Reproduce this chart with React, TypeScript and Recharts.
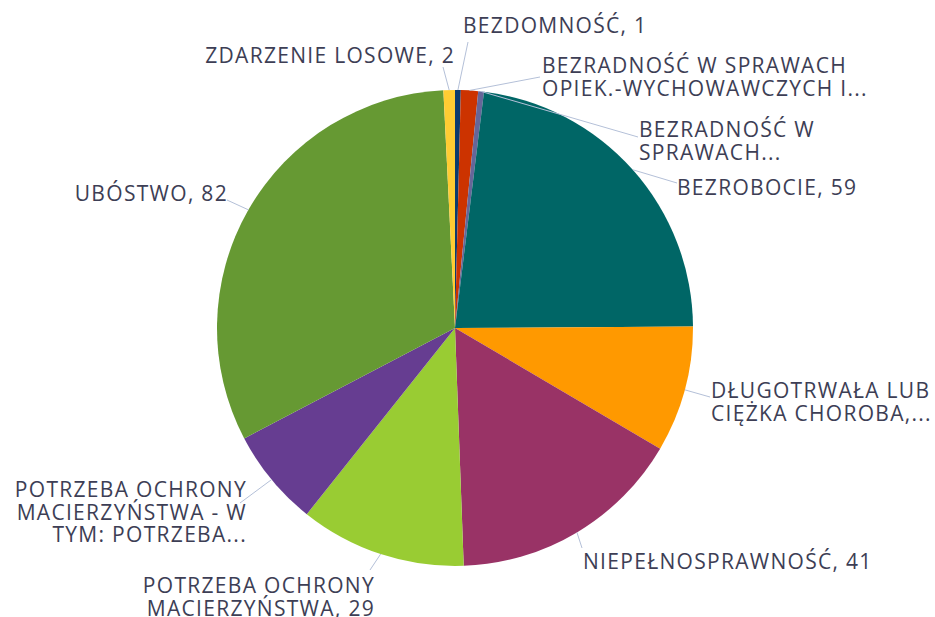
import React from "react";
import { Cell, Pie, PieChart } from "recharts";

// kategorie, wartości i kolory wycinków (kolejność zgodna z ruchem wskazówek zegara od godz. 12)
const categories = [
  "BEZDOMNOŚĆ",
  "BEZRADNOŚĆ W SPRAWACH OPIEK.-WYCHOWAWCZYCH I...",
  "BEZRADNOŚĆ W SPRAWACH...",
  "BEZROBOCIE",
  "DŁUGOTRWAŁA LUB CIĘŻKA CHOROBA,...",
  "NIEPEŁNOSPRAWNOŚĆ",
  "POTRZEBA OCHRONY MACIERZYŃSTWA",
  "POTRZEBA OCHRONY MACIERZYŃSTWA - W TYM: POTRZEBA...",
  "UBÓSTWO",
  "ZDARZENIE LOSOWE",
];
const values = [1, 3, 1, 59, 22, 41, 29, 17, 82, 2];
const colors = [
  "#0b3a6e",
  "#cc3300",
  "#666699",
  "#006666",
  "#ff9900",
  "#993366",
  "#99cc33",
  "#663d91",
  "#669933",
  "#ffcc33",
];
// tekst etykiet w liniach (jak w oryginale, z obcięciem)
const labelLines = [
  ["BEZDOMNOŚĆ, 1"],
  ["BEZRADNOŚĆ W SPRAWACH", "OPIEK.-WYCHOWAWCZYCH I..."],
  ["BEZRADNOŚĆ W", "SPRAWACH..."],
  ["BEZROBOCIE, 59"],
  ["DŁUGOTRWAŁA LUB", "CIĘŻKA CHOROBA,..."],
  ["NIEPEŁNOSPRAWNOŚĆ, 41"],
  ["POTRZEBA OCHRONY", "MACIERZYŃSTWA, 29"],
  ["POTRZEBA OCHRONY", "MACIERZYŃSTWA - W", "TYM: POTRZEBA..."],
  ["UBÓSTWO, 82"],
  ["ZDARZENIE LOSOWE, 2"],
];

const data = categories.map((name, i) => ({ name, value: values[i] }));

const W = 935;
const H = 617;
const TEXT = "#3d3e55";
const LEADER = "#b4c0d8";
const FONT = "'Open Sans', sans-serif";
const FS = 21;
const LS = 1.3;
const LH = 22.5;

// rozmieszczenie etykiet (wyrównanie, punkt tekstu, koniec linii odniesienia)
const layout: { anchor: "start" | "end"; x: number; y: number; ex: number; ey: number }[] = [
  { anchor: "start", x: 463, y: 33, ex: 468, ey: 42 },
  { anchor: "start", x: 542, y: 73, ex: 540, ey: 77 },
  { anchor: "start", x: 639, y: 137, ex: 638, ey: 137 },
  { anchor: "start", x: 677, y: 195, ex: 677, ey: 183 },
  { anchor: "start", x: 711, y: 398, ex: 710, ey: 397 },
  { anchor: "start", x: 583, y: 569, ex: 582, ey: 548 },
  { anchor: "end", x: 375, y: 593, ex: 370, ey: 570 },
  { anchor: "end", x: 247, y: 497, ex: 240, ey: 503 },
  { anchor: "end", x: 228, y: 201, ex: 227, ey: 200 },
  { anchor: "end", x: 455, y: 63, ex: 443, ey: 67 },
];

const RAD = Math.PI / 180;

function renderLabel(props: any) {
  const { cx, cy, midAngle, outerRadius, index } = props;
  const sx = cx + outerRadius * Math.cos(-midAngle * RAD);
  const sy = cy + outerRadius * Math.sin(-midAngle * RAD);
  const l = layout[index];
  return (
    <g key={`lbl-${index}`}>
      <line x1={sx} y1={sy} x2={l.ex} y2={l.ey} stroke={LEADER} strokeWidth={1} />
      <text
        x={l.x}
        y={l.y}
        textAnchor={l.anchor}
        fill={TEXT}
        fontSize={FS}
        fontFamily={FONT}
        letterSpacing={LS}
      >
        {labelLines[index].map((t, j) => (
          <tspan key={j} x={l.x} dy={j === 0 ? 0 : LH}>
            {t}
          </tspan>
        ))}
      </text>
    </g>
  );
}

export default function App() {
  return (
    <div style={{ position: "absolute", left: 0, top: 0, width: W, height: H, background: "#fff" }}>
      <PieChart width={W} height={H} margin={{ top: 0, right: 0, bottom: 0, left: 0 }}>
        <Pie
          data={data}
          dataKey="value"
          nameKey="name"
          cx={455}
          cy={328}
          outerRadius={238}
          startAngle={90}
          endAngle={-270}
          stroke="none"
          labelLine={false}
          label={renderLabel}
          isAnimationActive={false}
        >
          {data.map((d, i) => (
            <Cell key={d.name} fill={colors[i]} />
          ))}
        </Pie>
      </PieChart>
    </div>
  );
}
